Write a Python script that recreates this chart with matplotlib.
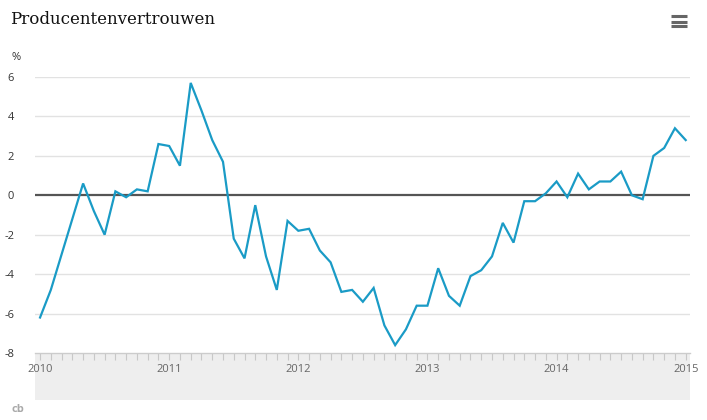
import numpy as np
import pandas as pd
import matplotlib
matplotlib.use("Agg")
import matplotlib.pyplot as plt
from matplotlib.lines import Line2D

# producentenvertrouwen, maandcijfers jan 2010 - jan 2015
months = pd.date_range("2010-01-01", periods=61, freq="MS")
values = [-6.2, -4.8, -3.0, -1.2, 0.6, -0.8, -2.0, 0.2, -0.1, 0.3, 0.2, 2.6,
          2.5, 1.5, 5.7, 4.3, 2.8, 1.7, -2.2, -3.2, -0.5, -3.1, -4.8, -1.3,
          -1.8, -1.7, -2.8, -3.4, -4.9, -4.8, -5.4, -4.7, -6.6, -7.6, -6.8, -5.6,
          -5.6, -3.7, -5.1, -5.6, -4.1, -3.8, -3.1, -1.4, -2.4, -0.3, -0.3, 0.1,
          0.7, -0.1, 1.1, 0.3, 0.7, 0.7, 1.2, 0.0, -0.2, 2.0, 2.4, 3.4,
          2.8]
y_ticks = [-8, -6, -4, -2, 0, 2, 4, 6]
title = "Producentenvertrouwen"

plt.rcParams["font.family"] = ["Open Sans", "DejaVu Sans"]

W, H = 707, 420
fig = plt.figure(figsize=(W / 100, H / 100), dpi=100)

def box(x0, y0, x1, y1):
    # pixel box (top-left origin) -> figure fraction
    return [x0 / W, 1 - y1 / H, (x1 - x0) / W, (y1 - y0) / H]

x = np.arange(len(values))

# grey band under the chart
band = fig.add_axes(box(35, 353, 690, 400))
band.set_facecolor("#eeeeee")
band.set_xticks([])
band.set_yticks([])
for s in band.spines.values():
    s.set_visible(False)

ax = fig.add_axes(box(35, 77, 690, 353))
ax.set_xlim(-0.47, 60.4)
ax.set_ylim(-8, 6)

for t in y_ticks[1:]:
    if t == 0:
        continue
    ax.axhline(t, color="#e2e2e2", lw=1, zorder=1)
ax.axhline(0, color="#555555", lw=1.6, zorder=2)

ax.plot(x, values, color="#1a9bc6", lw=1.6, zorder=3, solid_joinstyle="miter")

for s in ["top", "right", "left"]:
    ax.spines[s].set_visible(False)
ax.spines["bottom"].set_color("#cccccc")
ax.spines["bottom"].set_linewidth(1)

ax.set_yticks(y_ticks)
ax.set_yticklabels([str(t) for t in y_ticks])
ax.tick_params(axis="y", length=0, pad=15, labelsize=8, labelcolor="#333333")

ax.set_xticks(x)
ax.set_xticklabels([str(d.year) if d.month == 1 else "" for d in months])
ax.tick_params(axis="x", direction="out", length=5, width=0.8, color="#c8c8c8",
               pad=3, labelsize=8, labelcolor="#666666")

ax.set_facecolor("none")

fig.text(10 / W, 1 - 20 / H, title, fontsize=12, family="DejaVu Serif",
         color="#111111", va="center", ha="left")
fig.text(12 / W, 1 - 57 / H, "%", fontsize=8, color="#333333",
         va="center", ha="left")

# menu icon top right
for yy in [16, 21.5, 26.3]:
    fig.add_artist(Line2D([671 / W, 687 / W], [1 - yy / H, 1 - yy / H],
                          color="#666666", lw=2.2, solid_capstyle="butt"))

# small logo mark
fig.text(11 / W, 1 - 410 / H, "cb", fontsize=8, color="#aaaaaa",
         fontweight="bold", va="center", ha="left")

fig.savefig("out.png", dpi=100)
